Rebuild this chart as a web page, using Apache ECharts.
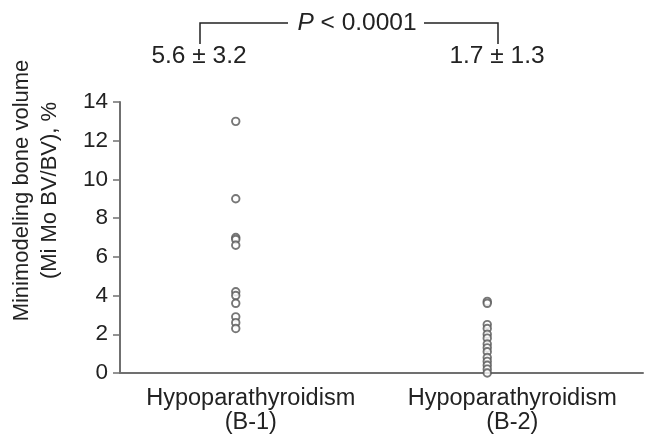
<!DOCTYPE html>
<html>
<head>
<meta charset="utf-8">
<script src="https://cdn.jsdelivr.net/npm/echarts@6/dist/echarts.min.js"></script>
<style>html,body{margin:0;padding:0;background:#fff}#c{width:645px;height:435px}</style>
</head>
<body>
<div id="c"></div>
<script>
const categories = ["Hypoparathyroidism\n(B-1)", "Hypoparathyroidism\n(B-2)"];
const groupB1 = [13.0, 9.0, 7.0, 6.9, 6.6, 4.2, 4.0, 3.6, 2.9, 2.6, 2.3];
const groupB2 = [3.7, 3.6, 2.5, 2.3, 2.0, 1.8, 1.5, 1.3, 1.1, 0.8, 0.6, 0.4, 0.2, 0.0];
const yTicks = [0, 2, 4, 6, 8, 10, 12, 14];
const summaryB1 = "5.6 ± 3.2";
const summaryB2 = "1.7 ± 1.3";
const pText = "< 0.0001";

const font = "Liberation Sans, Arial, sans-serif";
const chart = echarts.init(document.getElementById('c'));
const marker = { color: '#fff', borderColor: '#555', borderWidth: 1.9 };
chart.setOption({
  animation: false,
  grid: { left: 118, right: 2, top: 102, bottom: 59, containLabel: false },
  xAxis: {
    type: 'category', data: categories,
    axisLine: { lineStyle: { color: '#707070', width: 2 } },
    axisTick: { show: false },
    axisLabel: { interval: 0, hideOverlap: false, color: '#222', fontFamily: font, fontSize: 23.5, lineHeight: 24, margin: 14 }
  },
  yAxis: {
    type: 'value', min: yTicks[0], max: yTicks[yTicks.length - 1], interval: 2,
    splitLine: { show: false },
    axisLine: { show: true, lineStyle: { color: '#707070', width: 2 } },
    axisTick: { show: true, length: 7, lineStyle: { color: '#707070', width: 1.5 } },
    axisLabel: { color: '#222', fontFamily: font, fontSize: 22.5, margin: 12 },
    name: 'Minimodeling bone volume\n(Mi Mo BV/BV), %',
    nameLocation: 'middle', nameGap: 56, nameRotate: 90,
    nameTextStyle: { color: '#222', fontFamily: font, fontSize: 22, lineHeight: 28, padding: [0, 0, 0, 94] }
  },
  series: [
    { type: 'scatter', data: groupB1.map(v => [0, v]), symbol: 'circle', symbolSize: 7.5, symbolOffset: [-15, 0], itemStyle: marker },
    { type: 'scatter', data: groupB2.map(v => [1, v]), symbol: 'circle', symbolSize: 7.5, symbolOffset: [-25, 0], itemStyle: marker }
  ],
  graphic: [
    { type: 'polyline', shape: { points: [[200, 44], [200, 23], [288, 23]] }, style: { stroke: '#222', lineWidth: 1.5, fill: null } },
    { type: 'polyline', shape: { points: [[424, 23], [498, 23], [498, 44]] }, style: { stroke: '#222', lineWidth: 1.5, fill: null } },
    { type: 'text', x: 357, y: 23, style: { text: '{i|P} ' + pText, rich: { i: { fontStyle: 'italic', fontFamily: font, fontSize: 24.5, fill: '#222' } }, font: '24.5px ' + font, fill: '#222', align: 'center', verticalAlign: 'middle' } },
    { type: 'text', x: 199, y: 56, style: { text: summaryB1, font: '24.5px ' + font, fill: '#222', align: 'center', verticalAlign: 'middle' } },
    { type: 'text', x: 497, y: 56, style: { text: summaryB2, font: '24.5px ' + font, fill: '#222', align: 'center', verticalAlign: 'middle' } }
  ]
});
</script>
</body>
</html>
